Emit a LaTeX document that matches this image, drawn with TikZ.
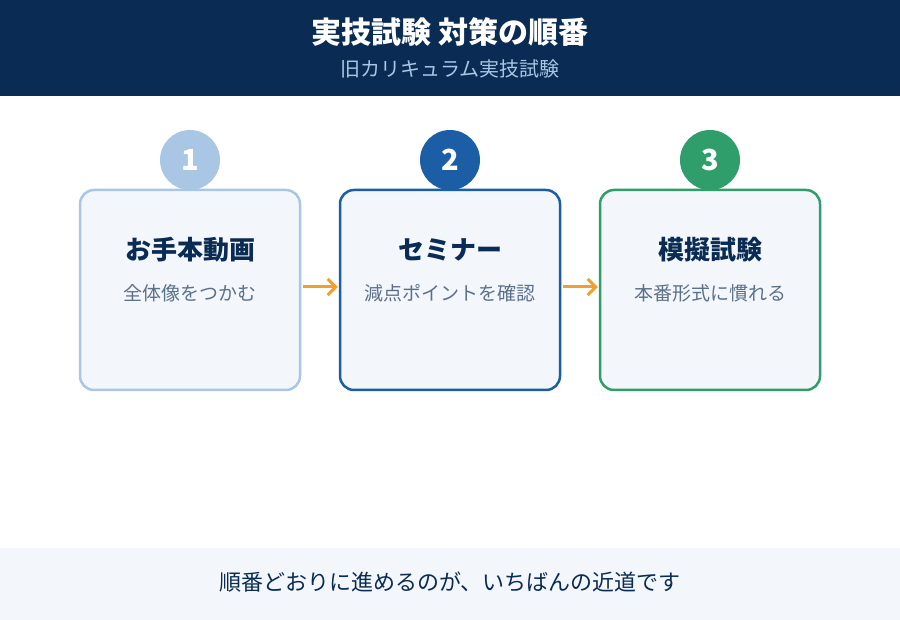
\documentclass[tikz,border=0pt]{standalone}
\usepackage{fontspec}
\setmainfont{Noto Sans CJK JP}
\usetikzlibrary{positioning}
\usetikzlibrary{arrows.meta}

\definecolor{blunotte}{HTML}{0A2C54}
\definecolor{celeste}{HTML}{A9C7E4}
\definecolor{blu}{HTML}{1C5EA5}
\definecolor{verde}{HTML}{2F9E6B}
\definecolor{fondo}{HTML}{F3F6FA}
\definecolor{grigio}{HTML}{5D708A}
\definecolor{arancio}{HTML}{F0A02E}
\definecolor{sottot}{HTML}{A9C7E4}

\begin{document}
\begin{tikzpicture}[x=1pt,y=-1pt,
scatola/.style={draw,line width=2.5pt,fill=fondo,rounded corners=14pt,minimum width=220pt,minimum height=200pt,inner sep=0pt},
cerchio/.style={circle,minimum size=60pt,inner sep=0pt,text=white,font=\bfseries\fontsize{29}{29}\selectfont},
titolo/.style={text=blunotte,font=\bfseries\fontsize{26}{26}\selectfont},
sotto/.style={text=grigio,font=\fontsize{19}{19}\selectfont},
freccia/.style={draw=arancio,line width=3pt,-{Straight Barb[length=8pt,width=16pt]},shorten <=2pt,shorten >=1pt}
]
\useasboundingbox (0,0) rectangle (900,620);
\fill[white] (0,0) rectangle (900,620);
%-- testata
\fill[blunotte] (0,0) rectangle (900,96);
\node[text=white,font=\bfseries\fontsize{30}{30}\selectfont] (h) at (450,32){実技試験 対策の順番};
\node[text=sottot,font=\fontsize{20}{20}\selectfont] (hs) at (450,69){旧カリキュラム実技試験};
%-- passo 1
\node[scatola,draw=celeste] (a) at (190,290){};
\node[cerchio,fill=celeste] (ca) at (190,160){1};
\node[titolo] (ta) at (190,250){お手本動画};
\node[sotto,below=43pt of ta.center,anchor=center] (sa){全体像をつかむ};
%-- passo 2
\node[scatola,draw=blu] (b) at (450,290){};
\node[cerchio,fill=blu] (cb) at (450,160){2};
\node[titolo] (tb) at (450,250){セミナー};
\node[sotto,below=43pt of tb.center,anchor=center] (sb){減点ポイントを確認};
%-- passo 3
\node[scatola,draw=verde] (c) at (710,290){};
\node[cerchio,fill=verde] (cc) at (710,160){3};
\node[titolo] (tc) at (710,250){模擬試験};
\node[sotto,below=43pt of tc.center,anchor=center] (sc){本番形式に慣れる};
%--
\draw[freccia] ([yshift=3pt]a.east) -- ([yshift=3pt]b.west);
\draw[freccia] ([yshift=3pt]b.east) -- ([yshift=3pt]c.west);
%-- piede
\fill[fondo] (0,548) rectangle (900,620);
\node[text=blunotte,font=\fontsize{22}{22}\selectfont] (p) at (450,582){順番どおりに進めるのが、いちばんの近道です};
\end{tikzpicture}
\end{document}
